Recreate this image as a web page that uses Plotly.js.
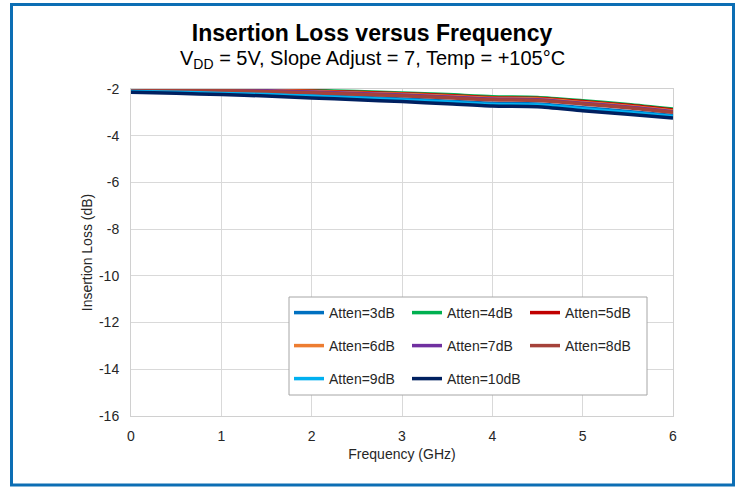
<!DOCTYPE html>
<html>
<head>
<meta charset="utf-8">
<script src="https://cdn.plot.ly/plotly-3.0.1.min.js"></script>
<style>html,body{margin:0;padding:0;background:#fff;}#chart{width:740px;height:487px;}</style>
</head>
<body>
<div id="chart"></div>
<script>
// Frequency (GHz)
const freq = [0, 0.5, 1, 1.5, 2, 2.5, 3, 3.5, 4, 4.5, 5, 5.5, 6];
// Insertion loss (dB) per attenuation setting
const atten3  = [-2.09, -2.11, -2.15, -2.20, -2.27, -2.35, -2.43, -2.52, -2.61, -2.64, -2.80, -2.96, -3.13];
const atten4  = [-2.00, -2.00, -2.01, -2.03, -2.06, -2.11, -2.17, -2.24, -2.33, -2.36, -2.50, -2.66, -2.86];
const atten5  = [-2.01, -2.01, -2.02, -2.05, -2.09, -2.14, -2.20, -2.28, -2.37, -2.40, -2.54, -2.70, -2.90];
const atten6  = [-2.02, -2.03, -2.04, -2.07, -2.11, -2.17, -2.23, -2.31, -2.40, -2.43, -2.58, -2.74, -2.94];
const atten7  = [-1.99, -2.01, -2.04, -2.08, -2.13, -2.19, -2.26, -2.34, -2.43, -2.46, -2.61, -2.77, -2.97];
const atten8  = [-2.03, -2.05, -2.07, -2.11, -2.16, -2.22, -2.29, -2.37, -2.46, -2.49, -2.64, -2.80, -3.00];
const atten9  = [-2.11, -2.14, -2.19, -2.24, -2.31, -2.39, -2.47, -2.56, -2.66, -2.69, -2.85, -3.01, -3.18];
const atten10 = [-2.14, -2.18, -2.24, -2.30, -2.38, -2.46, -2.54, -2.63, -2.73, -2.76, -2.93, -3.08, -3.24];

// Axis tick labels (hyphen-minus as in the original)
const yTickVals = [-16, -14, -12, -10, -8, -6, -4, -2];
const yTickText = ['-16', '-14', '-12', '-10', '-8', '-6', '-4', '-2'];
const xTickVals = [0, 1, 2, 3, 4, 5, 6];
const xTickText = ['0', '1', '2', '3', '4', '5', '6'];

const seriesNames = ['Atten=3dB','Atten=4dB','Atten=5dB','Atten=6dB','Atten=7dB','Atten=8dB','Atten=9dB','Atten=10dB'];
const seriesValues = [atten3, atten4, atten5, atten6, atten7, atten8, atten9, atten10];
const seriesColors = ['#0070C0','#00B050','#C00000','#ED7D31','#7030A0','#A5423A','#00B0F0','#002060'];
const seriesLegend = ['legend','legend','legend','legend2','legend2','legend2','legend3','legend3'];

const data = seriesNames.map((name, i) => ({
  type: 'scatter',
  mode: 'lines',
  x: freq,
  y: seriesValues[i],
  name: name,
  legend: seriesLegend[i],
  line: {color: seriesColors[i], width: 3.5, shape: 'spline', smoothing: 0.7}
}));

const txt = '#262626';
const fam = 'Liberation Sans, Arial, sans-serif';
const legendBase = {
  orientation: 'h',
  xanchor: 'left',
  yanchor: 'middle',
  x: 0.2915,
  bgcolor: 'rgba(0,0,0,0)',
  borderwidth: 0,
  entrywidth: 73,
  font: {family: fam, size: 14, color: txt}
};

const layout = {
  width: 740,
  height: 487,
  margin: {l: 131, r: 67, t: 89, b: 71},
  paper_bgcolor: '#ffffff',
  plot_bgcolor: '#ffffff',
  font: {family: fam, color: txt},
  title: {
    text: '<b>Insertion Loss versus Frequency</b>',
    font: {size: 23, color: '#000000'},
    x: (372)/740, xanchor: 'center',
    y: 1 - 33/487, yanchor: 'middle', yref: 'container'
  },
  annotations: [{
    text: 'V<sub>DD</sub> = 5V, Slope Adjust = 7, Temp = +105°C',
    xref: 'paper', yref: 'paper', x: (372-131)/542, y: (416-59)/327,
    xanchor: 'center', yanchor: 'middle', showarrow: false,
    font: {size: 20, color: '#000000'}
  }],
  xaxis: {
    range: [0, 6], tickmode: 'array', tickvals: xTickVals, ticktext: xTickText,
    showgrid: true, gridcolor: '#d9d9d9', gridwidth: 1,
    showline: true, linecolor: '#d0d0d0', linewidth: 1, mirror: true,
    zeroline: false, ticks: '', ticklabelstandoff: 7,
    tickfont: {size: 14, color: txt},
    title: {text: 'Frequency (GHz)', font: {size: 14, color: txt}, standoff: 6},
    automargin: false, fixedrange: true
  },
  yaxis: {
    range: [-16, -2], tickmode: 'array', tickvals: yTickVals, ticktext: yTickText,
    showgrid: true, gridcolor: '#d9d9d9', gridwidth: 1,
    showline: true, linecolor: '#d0d0d0', linewidth: 1, mirror: true,
    zeroline: false, ticks: '', ticklabelstandoff: 8,
    tickfont: {size: 14, color: txt},
    title: {text: 'Insertion Loss (dB)', font: {size: 14, color: txt}, standoff: 3},
    automargin: false, fixedrange: true
  },
  legend: Object.assign({}, legendBase, {y: (416-313)/327}),
  legend2: Object.assign({}, legendBase, {y: (416-346)/327}),
  legend3: Object.assign({}, legendBase, {y: (416-379)/327}),
  shapes: [
    {type: 'rect', xref: 'paper', yref: 'paper',
     x0: (289-131)/542, x1: (647-131)/542, y0: (416-395)/327, y1: (416-297)/327,
     fillcolor: '#ffffff', line: {color: '#a6a6a6', width: 1}, layer: 'above'},
    {type: 'rect', xref: 'paper', yref: 'paper',
     x0: (11.5-131)/542, x1: (733.5-131)/542, y0: (416-485)/327, y1: (416-4.5)/327,
     fillcolor: 'rgba(0,0,0,0)', line: {color: '#0C6EB4', width: 3}, layer: 'above'}
  ],
  showlegend: true
};

Plotly.newPlot('chart', data, layout, {staticPlot: true, displayModeBar: false});
</script>
</body>
</html>
